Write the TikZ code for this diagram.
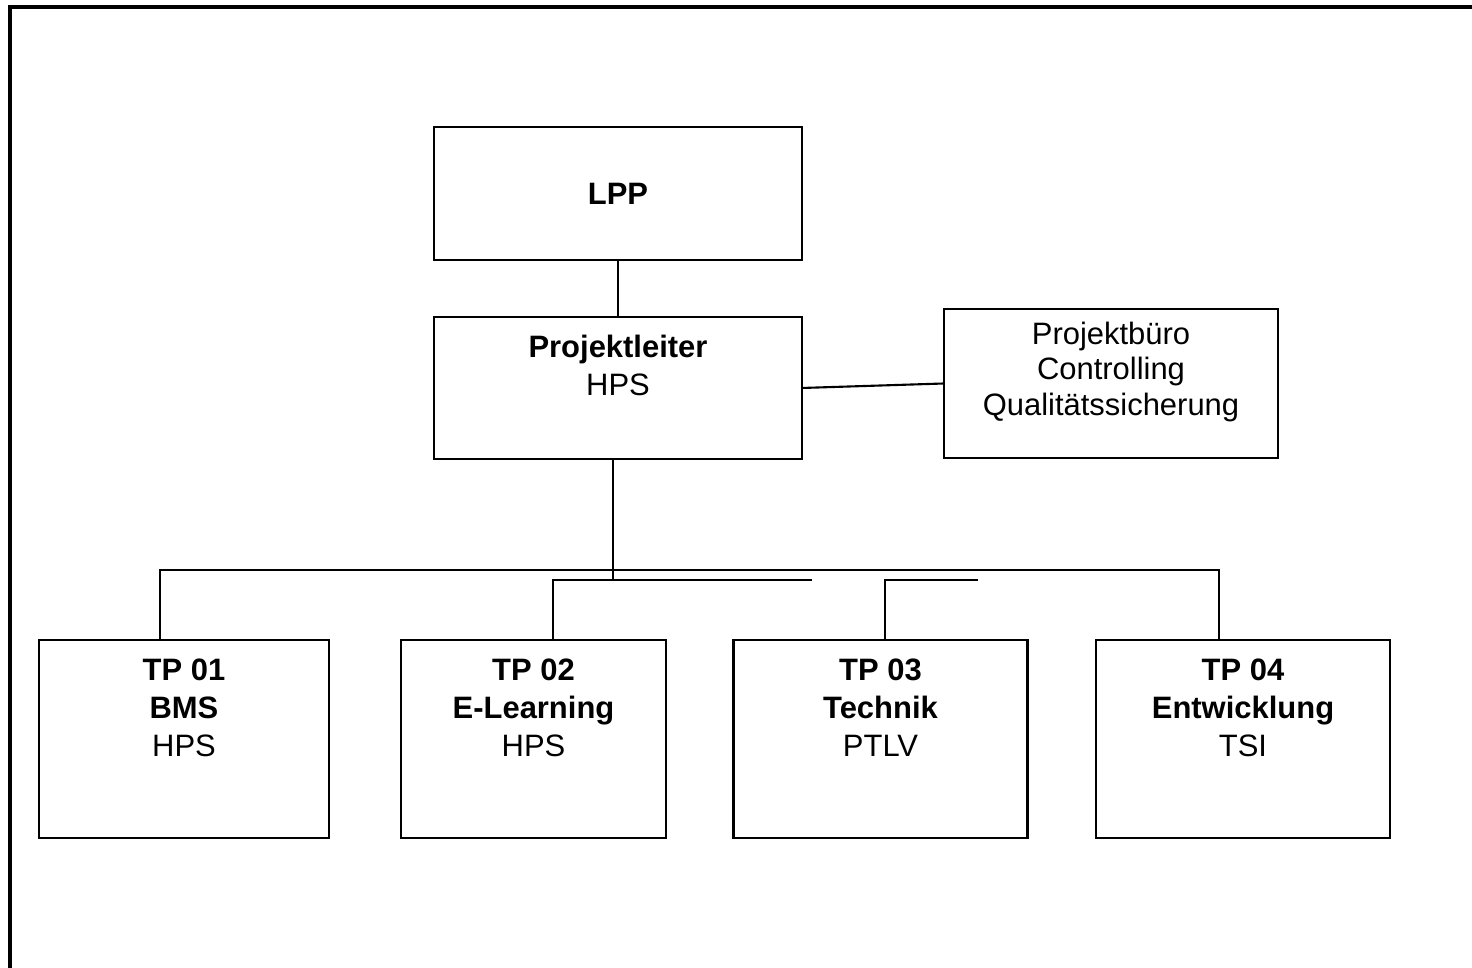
\documentclass[tikz,border=0pt]{standalone}
\usepackage{fontspec}
\setmainfont{Liberation Sans}
\usepackage{tikz}
\tikzset{
  box/.style={draw, line width=0.8pt, inner sep=0pt, outer sep=0pt},
  lbl/.style={align=center, inner sep=0pt, font=\fontsize{8.8}{10.8}\selectfont},
  wire/.style={line width=0.6pt}
}

\begin{document}
\begin{tikzpicture}[x=0.01cm, y=-0.01cm,
  tpbox/.style={box, minimum height=198*0.01cm}
]
\useasboundingbox (0,0) rectangle (1472,968);
% the frame
\draw[line width=0.9pt] (10,7) rectangle (1490,990);

\node[box, minimum width=368*0.01cm, minimum height=133*0.01cm,
      font=\fontsize{8.8}{10.8}\selectfont\bfseries] (lpp) at (618,193.5) {LPP};
\node[box, minimum width=368*0.01cm, minimum height=142*0.01cm] (pl) at (618,388) {};
\node[lbl] (pl text) at (618,365) {\textbf{Projektleiter}\\HPS};
\node[box, minimum width=334*0.01cm, minimum height=149*0.01cm] (pb) at (1111,383.5) {};
\node[lbl, font=\fontsize{8.8}{10}\selectfont] (pb text) at (1111,372)
      {Projektbüro\\Controlling\\Qualitätssicherung};

% the sub projects
\foreach \i/\x/\w/\tpno/\tpname/\tpwho in {1/184/290/TP 01/BMS/HPS,
    2/533.5/265/TP 02/E-Learning/HPS, 3/880.5/294/TP 03/Technik/PTLV,
    4/1243/294/TP 04/Entwicklung/TSI}
{
  \node[tpbox, minimum width=\w*0.01cm] (tp\i) at (\x,739) {};
  \node[lbl] (tp\i text) at (\x,707.5) {\textbf{\tpno}\\\textbf{\tpname}\\\tpwho};
}

\draw[wire] (lpp) -- (pl);
\draw[wire] (pl.east) -- (pb.west);

% the bus lines
\coordinate (plfoot) at (613,580);
\coordinate (busw) at (160,570);
\coordinate (buse) at (1219,570);
\coordinate (fork2) at (553,580);
\coordinate (end2) at (812,580);
\coordinate (fork3) at (885,580);
\coordinate (end3) at (978,580);
\draw[wire] (pl.south -| plfoot) -- (plfoot);
\draw[wire] (tp1.north -| busw) -- (busw) -- (buse) -- (tp4.north -| buse);
\draw[wire] (tp2.north -| fork2) -- (fork2) -- (end2);
\draw[wire] (tp3.north -| fork3) -- (fork3) -- (end3);
\end{tikzpicture}
\end{document}
